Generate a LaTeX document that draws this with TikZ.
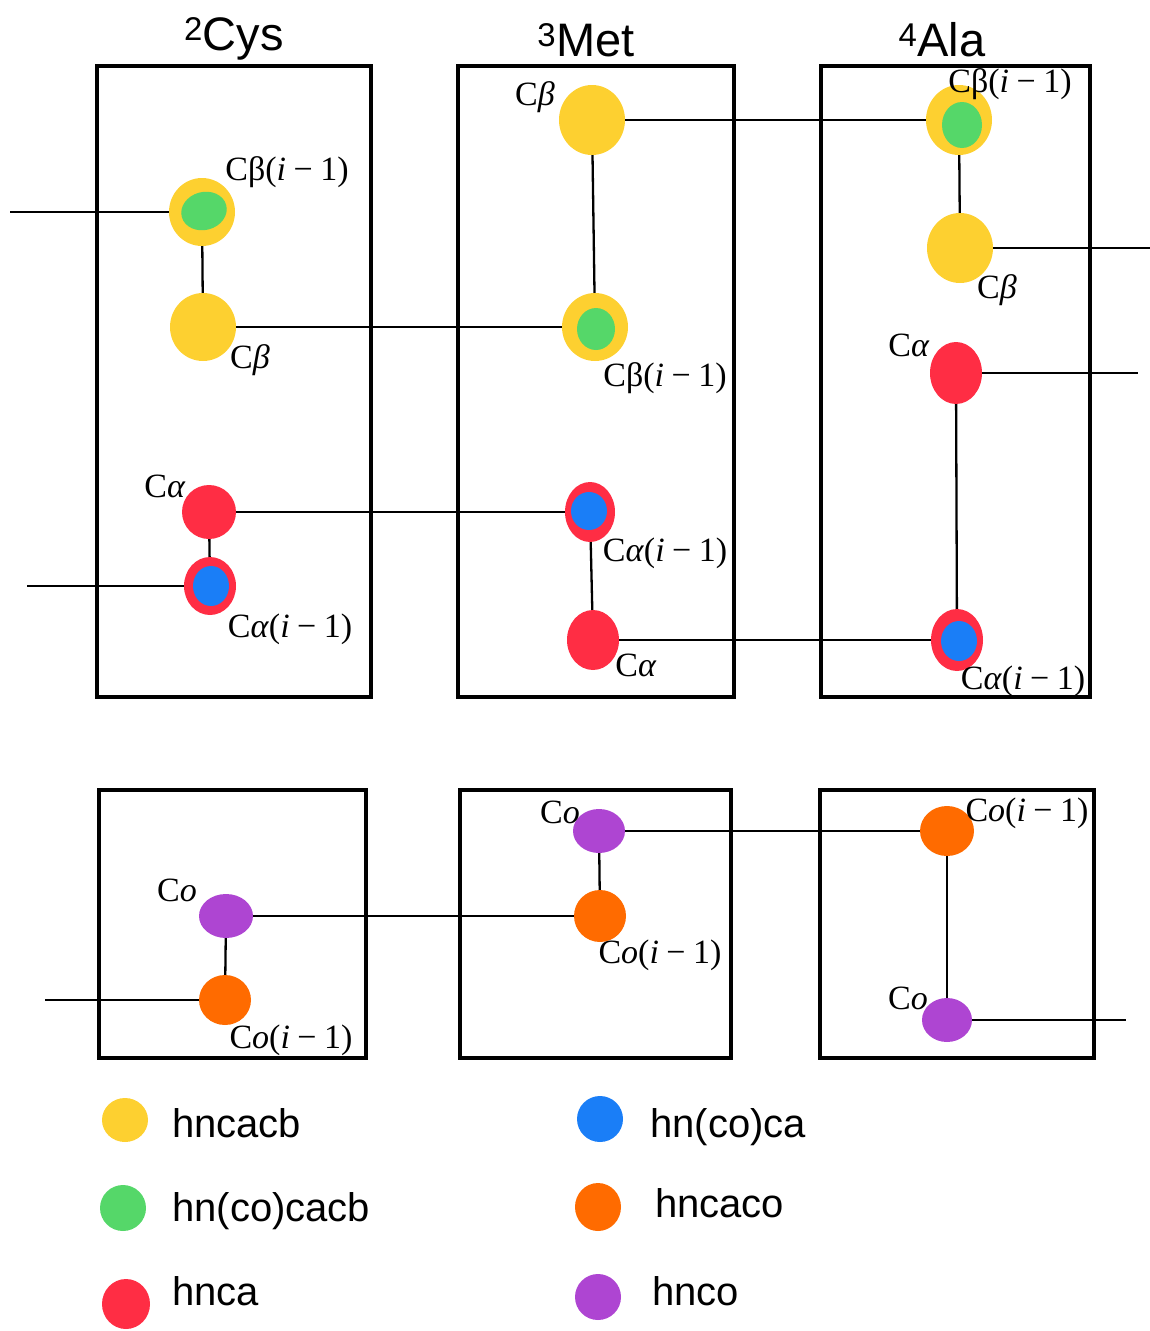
\documentclass[tikz,border=0pt]{standalone}
\usepackage{fontspec}
\setmainfont{Liberation Sans}
\newfontfamily\labelfont{Liberation Serif}
\usepackage{tikz}
\usetikzlibrary{shapes.geometric}
\definecolor{cbyellow}{RGB}{253,208,48}
\definecolor{cbgreen}{RGB}{85,215,105}
\definecolor{cared}{RGB}{255,45,68}
\definecolor{cablue}{RGB}{26,126,247}
\definecolor{coorange}{RGB}{255,107,0}
\definecolor{copurple}{RGB}{174,69,210}
\newcommand{\prevres}{(\textit{i}\hspace{0.22em}−\hspace{0.22em}1)}

\begin{document}
\begin{tikzpicture}[x=1pt, y=-1pt]
\tikzstyle{dot} = [ellipse, inner sep=0pt, draw=none]
\tikzstyle{hncacb} = [dot, fill=cbyellow, minimum width=66pt, minimum height=68pt]
\tikzstyle{hncocacb} = [dot, fill=cbgreen, minimum width=42pt, minimum height=42pt]
\tikzstyle{hnca} = [dot, fill=cared, minimum width=54pt, minimum height=58pt]
\tikzstyle{hncoca} = [dot, fill=cablue, minimum width=36pt, minimum height=38pt]
\tikzstyle{hncaco} = [dot, fill=coorange, minimum width=52pt, minimum height=50pt]
\tikzstyle{hnco} = [dot, fill=copurple, minimum width=54pt, minimum height=44pt]
\tikzstyle{frame} = [line width=3.5pt]
\tikzstyle{link} = [line width=2.3pt]
\tikzstyle{title} = [anchor=base, font=\fontsize{47}{47}\selectfont]
\tikzstyle{atom} = [font=\labelfont\fontsize{34}{34}\selectfont, inner sep=0pt]
\tikzstyle{key} = [anchor=base west, inner sep=0pt, font=\fontsize{40}{40}\selectfont]

\useasboundingbox (0,0) rectangle (1150,1331);

\draw [frame] (97,66) rectangle (371,697);
\draw [frame] (458,66) rectangle (734,697);
\draw [frame] (821,66) rectangle (1090,697);
\draw [frame] (99,790) rectangle (366,1058);
\draw [frame] (460,790) rectangle (731,1058);
\draw [frame] (820,790) rectangle (1094,1058);

\node (cys) [title] at (234,50) {\textsuperscript{2}Cys};
\node (met) [title] at (586,56) {\textsuperscript{3}Met};
\node (ala) [title] at (942,56) {\textsuperscript{4}Ala};

\node (cyscbprev) [hncacb] at (202,212) {};
\node (cyscbprevin) [hncocacb, minimum width=46pt, minimum height=38pt, rotate=15] at (204,211) {};
\node (cyscb) [hncacb] at (203,327) {};
\node (cysca) [hnca, minimum height=54pt] at (209,512) {};
\node (cyscaprev) [hnca, minimum width=52pt] at (210,586) {};
\node (cyscaprevin) [hncoca, minimum height=40pt] at (211,586) {};

\node (metcb) [hncacb, minimum height=70pt] at (592,120) {};
\node (metcbprev) [hncacb] at (595,327) {};
\node (metcbprevin) [hncocacb, minimum width=38pt] at (596,329) {};
\node (metcaprev) [hnca, minimum width=50pt, minimum height=60pt] at (590,512) {};
\node (metcaprevin) [hncoca] at (589,511) {};
\node (metca) [hnca, minimum width=52pt, minimum height=60pt] at (593,640) {};

\node (alacbprev) [hncacb, minimum height=70pt] at (959,120) {};
\node (alacbprevin) [hncocacb, minimum width=40pt, minimum height=46pt] at (962,125) {};
\node (alacb) [hncacb, minimum height=70pt] at (960,248) {};
\node (alaca) [hnca, minimum width=52pt, minimum height=62pt] at (956,373) {};
\node (alacaprev) [hnca, minimum width=52pt, minimum height=62pt] at (957,640) {};
\node (alacaprevin) [hncoca, minimum height=40pt] at (959,641) {};

\node (cysco) [hnco] at (226,916) {};
\node (cyscoprev) [hncaco] at (225,1000) {};
\node (metco) [hnco, minimum width=52pt] at (599,831) {};
\node (metcoprev) [hncaco, minimum height=52pt] at (600,916) {};
\node (alacoprev) [hncaco, minimum width=54pt] at (947,831) {};
\node (alaco) [hnco, minimum width=50pt] at (947,1020) {};

\coordinate (cyscbin) at (10,212);
\coordinate (cyscain) at (27,586);
\coordinate (alacbout) at (1150,248);
\coordinate (alacaout) at (1138,373);
\coordinate (cyscoin) at (45,1000);
\coordinate (alacoout) at (1126,1020);

\draw [link] (cyscbin) -- (cyscbprev);
\draw [link] (cyscbprev) -- (cyscb);
\draw [link] (cyscb) -- (metcbprev);
\draw [link] (cysca) -- (cyscaprev);
\draw [link] (cysca) -- (metcaprev);
\draw [link] (cyscain) -- (cyscaprev);
\draw [link] (metcb) -- (metcbprev);
\draw [link] (metcb) -- (alacbprev);
\draw [link] (metcaprev) -- (metca);
\draw [link] (metca) -- (alacaprev);
\draw [link] (alacbprev) -- (alacb);
\draw [link] (alacb) -- (alacbout);
\draw [link] (alaca) -- (alacaprev);
\draw [link] (alaca) -- (alacaout);
\draw [link] (cyscoin) -- (cyscoprev);
\draw [link] (cysco) -- (cyscoprev);
\draw [link] (cysco) -- (metcoprev);
\draw [link] (metco) -- (metcoprev);
\draw [link] (metco) -- (alacoprev);
\draw [link] (alacoprev) -- (alaco);
\draw [link] (alaco) -- (alacoout);

\node (cyscbprevlabel) [atom] at (287,172) {Cβ\prevres};
\node (cyscblabel) [atom] at (250,360) {C\textit{β}};
\node (cyscalabel) [atom] at (165,486) {C\textit{α}};
\node (cyscaprevlabel) [atom] at (290,629) {C\textit{α}\prevres};
\node (metcblabel) [atom] at (535,97) {C\textit{β}};
\node (metcbprevlabel) [atom] at (665,378) {Cβ\prevres};
\node (metcaprevlabel) [atom] at (665,553) {C\textit{α}\prevres};
\node (metcalabel) [atom] at (636,665) {C\textit{α}};
\node (alacbprevlabel) [atom] at (1010,84) {Cβ\prevres};
\node (alacblabel) [atom] at (997,290) {C\textit{β}};
\node (alacalabel) [atom] at (909,345) {C\textit{α}};
\node (alacaprevlabel) [atom] at (1023,681) {C\textit{α}\prevres};
\node (cyscolabel) [atom] at (177,890) {C\textit{o}};
\node (cyscoprevlabel) [atom] at (291,1040) {C\textit{o}\prevres};
\node (metcolabel) [atom] at (560,812) {C\textit{o}};
\node (metcoprevlabel) [atom] at (660,955) {C\textit{o}\prevres};
\node (alacoprevlabel) [atom] at (1027,813) {C\textit{o}\prevres};
\node (alacolabel) [atom] at (908,998) {C\textit{o}};

\node (keycacb) [hncacb, minimum width=46pt, minimum height=44pt] at (125,1120) {};
\node (keycocacb) [hncocacb, minimum width=46pt, minimum height=46pt] at (123,1208) {};
\node (keyca) [hnca, minimum width=48pt, minimum height=50pt] at (126,1304) {};
\node (keycoca) [hncoca, minimum width=46pt, minimum height=46pt] at (600,1119) {};
\node (keycaco) [hncaco, minimum width=46pt, minimum height=48pt] at (598,1207) {};
\node (keyco) [hnco, minimum width=46pt, minimum height=46pt] at (598,1297) {};

\node (textcacb) [key] at (172,1137) {hncacb};
\node (textcocacb) [key] at (172,1221) {hn(co)cacb};
\node (textca) [key] at (172,1305) {hnca};
\node (textcoca) [key] at (650,1137) {hn(co)ca};
\node (textcaco) [key] at (655,1217) {hncaco};
\node (textco) [key] at (652,1305) {hnco};
\end{tikzpicture}
\end{document}
